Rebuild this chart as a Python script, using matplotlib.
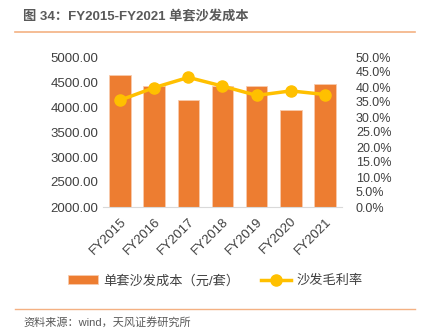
import matplotlib
matplotlib.use("Agg")
import matplotlib.pyplot as plt
from matplotlib.ticker import FuncFormatter

plt.rcParams['font.family'] = ['Liberation Sans', 'Noto Sans CJK SC']

years = ["FY2015", "FY2016", "FY2017", "FY2018", "FY2019", "FY2020", "FY2021"]
cost = [4650, 4420, 4150, 4420, 4420, 3950, 4460]
margin = [35.6, 39.8, 43.2, 40.3, 37.2, 38.7, 37.5]

BAR = "#ED7D31"
LINE = "#FFC000"
TXT = "#404040"

fig = plt.figure(figsize=(4.31, 3.28), dpi=100)
ax = fig.add_axes([103 / 431, 1 - 207 / 328, (342 - 103) / 431, (207 - 57) / 328])

x = range(len(years))
bars = ax.bar(x, cost, width=0.63, color=BAR, edgecolor="#F8CBAD", linewidth=0.6,
              label="单套沙发成本（元/套）", zorder=2)
ax.set_ylim(2000, 5000)
ax.set_yticks(range(2000, 5001, 500))
ax.yaxis.set_major_formatter(FuncFormatter(lambda v, p: f"{v:.2f}"))
ax.set_xlim(-0.5, len(years) - 0.5)
ax.set_xticks(list(x))
ax.set_xticklabels(years, rotation=45, ha="right", rotation_mode="anchor")
ax.tick_params(length=0, labelsize=9.5, colors=TXT)
ax.tick_params(axis="x", pad=6)
for s in ["top", "right", "left"]:
    ax.spines[s].set_visible(False)
ax.spines["bottom"].set_color("#D9D9D9")

ax2 = ax.twinx()
ln, = ax2.plot(list(x), margin, color=LINE, linewidth=2.5, marker="o", markersize=8,
               label="沙发毛利率", zorder=3)
ax2.set_ylim(0, 50)
ax2.set_yticks(range(0, 51, 5))
ax2.yaxis.set_major_formatter(FuncFormatter(lambda v, p: f"{v:.1f}%"))
ax2.tick_params(length=0, labelsize=9, colors=TXT, pad=10)
for s in ax2.spines.values():
    s.set_visible(False)

fig.legend([bars, ln], ["单套沙发成本（元/套）", "沙发毛利率"], loc="center",
           bbox_to_anchor=(0.5, 1 - 281 / 328), ncol=2, frameon=False,
           fontsize=9.5, labelcolor=TXT, handlelength=2.3, columnspacing=1.6,
           handletextpad=0.4)

fig.text(23 / 431, 1 - 17 / 328, "图 34：FY2015-FY2021 单套沙发成本", fontsize=9.5,
         fontweight="bold", color="#595959", va="center", ha="left")
fig.add_artist(plt.Line2D([15 / 431, 415 / 431], [1 - 32 / 328] * 2,
                          color="#F4B183", linewidth=1.2))
fig.add_artist(plt.Line2D([15 / 431, 415 / 431], [1 - 309 / 328] * 2,
                          color="#F4B183", linewidth=1.0))
fig.text(23 / 431, 1 - 322 / 328, "资料来源：wind，天风证券研究所", fontsize=8,
         color="#595959", va="center", ha="left")

fig.savefig("out.png", dpi=100)
